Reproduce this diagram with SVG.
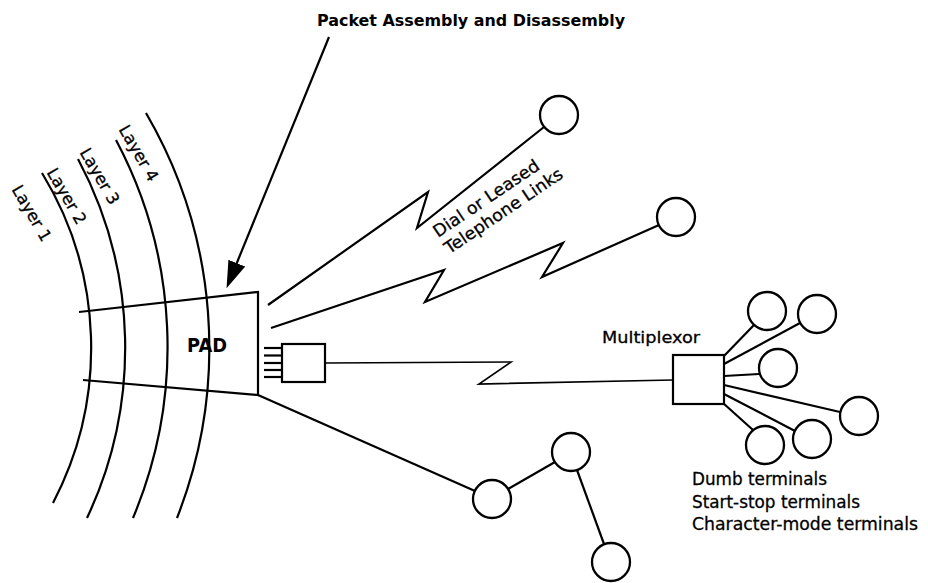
<svg xmlns="http://www.w3.org/2000/svg" width="928" height="583" viewBox="0 0 928 583">
<style>
  .ln { fill: none; stroke: #000; stroke-width: 2.2; stroke-linejoin: miter; stroke-linecap: butt; }
  .thin { fill: none; stroke: #000; stroke-width: 1.7; }
  .term { fill: #fff; stroke: #000; stroke-width: 2.3; }
  .box { fill: #fff; stroke: #000; stroke-width: 2.2; }
  .t { font-family: "DejaVu Sans", "Liberation Sans", sans-serif; fill: #000; stroke: #000; stroke-width: 0.3; }
  .b { font-weight: bold; stroke-width: 0; }
</style>
<defs>
  <marker id="ah" viewBox="0 0 27 18" refX="2" refY="9" markerWidth="27" markerHeight="18" markerUnits="userSpaceOnUse" orient="auto">
    <path d="M0,0 L27,9 L0,18 z" fill="#000"/>
  </marker>
</defs>
<rect width="928" height="583" fill="#fff"/>

<g id="layers">
  <path class="ln" d="M42 173 A335 335 0 0 1 53 503"/>
  <path class="ln" d="M78 159 A400 400 0 0 1 87 518"/>
  <path class="ln" d="M116 140 A441 441 0 0 1 133 518"/>
  <path class="ln" d="M146 113 A466 466 0 0 1 177 518"/>
  <text class="t" font-size="16.5" text-anchor="middle" transform="translate(32 213) rotate(60)" y="6">Layer 1</text>
  <text class="t" font-size="16.5" text-anchor="middle" transform="translate(67 196) rotate(60)" y="6">Layer 2</text>
  <text class="t" font-size="16.5" text-anchor="middle" transform="translate(100 176) rotate(60)" y="6">Layer 3</text>
  <text class="t" font-size="16.5" text-anchor="middle" transform="translate(139 153) rotate(60)" y="6">Layer 4</text>
</g>

<g id="pad">
  <polyline class="ln" points="79,312 258,292 258,395 83,380"/>
  <text class="t b" x="187" y="352" font-size="19" textLength="40" lengthAdjust="spacingAndGlyphs">PAD</text>
</g>

<g id="title">
  <text class="t b" x="317" y="26" font-size="16.5" textLength="308" lengthAdjust="spacingAndGlyphs">Packet Assembly and Disassembly</text>
</g>

<g id="adapter">
  <rect class="box" x="282" y="344" width="43" height="38"/>
</g>

<g id="multiplexor">
  <rect class="box" x="673" y="355" width="51" height="49"/>
  <text class="t" x="602" y="343" font-size="16" stroke-width="0.5" textLength="98" lengthAdjust="spacingAndGlyphs">Multiplexor</text>
</g>

<g id="remote1"><circle class="term" cx="559" cy="115" r="19"/></g>
<g id="remote2"><circle class="term" cx="676" cy="217" r="19"/></g>
<g id="mt1"><circle class="term" cx="767" cy="311" r="19"/></g>
<g id="mt2"><circle class="term" cx="817" cy="314" r="19"/></g>
<g id="mt3"><circle class="term" cx="778" cy="368" r="19"/></g>
<g id="mt4"><circle class="term" cx="859" cy="416" r="19"/></g>
<g id="mt5"><circle class="term" cx="812" cy="439" r="19"/></g>
<g id="mt6"><circle class="term" cx="765" cy="445" r="19"/></g>
<g id="nodeA"><circle class="term" cx="492" cy="499" r="19"/></g>
<g id="nodeB"><circle class="term" cx="571" cy="452" r="19"/></g>
<g id="nodeC"><circle class="term" cx="611" cy="562" r="19"/></g>

<g id="labels">
  <g transform="translate(438 238) rotate(-34)">
    <text class="t" x="0" y="0" font-size="17" textLength="124" lengthAdjust="spacingAndGlyphs">Dial or Leased</text>
    <text class="t" x="0" y="20" font-size="17" textLength="139" lengthAdjust="spacingAndGlyphs">Telephone Links</text>
  </g>
  <text class="t" x="692" y="485" font-size="17" textLength="135" lengthAdjust="spacingAndGlyphs">Dumb terminals</text>
  <text class="t" x="692" y="508" font-size="17" textLength="168" lengthAdjust="spacingAndGlyphs">Start-stop terminals</text>
  <text class="t" x="692" y="530" font-size="17" textLength="226" lengthAdjust="spacingAndGlyphs">Character-mode terminals</text>
</g>

<g id="connectors">
  <line class="ln" stroke-width="2.6" x1="329" y1="37" x2="236" y2="265" marker-end="url(#ah)"/>
  <polyline class="ln" points="268,305 428,192 417,228 544,127"/>
  <polyline class="ln" points="271,328 444,270 425,302 563,243 542,277 659,225"/>
  <g class="ln">
    <line x1="264" y1="348" x2="282" y2="348"/>
    <line x1="264" y1="355.5" x2="282" y2="355.5"/>
    <line x1="264" y1="363" x2="282" y2="363"/>
    <line x1="264" y1="370" x2="282" y2="370"/>
    <line x1="264" y1="377" x2="282" y2="377"/>
  </g>
  <polyline class="thin" points="325,363 511,362 479,384 673,380"/>
  <line class="ln" x1="724" y1="356" x2="754" y2="325"/>
  <line class="ln" x1="724" y1="364" x2="800" y2="323"/>
  <line class="ln" x1="724" y1="376" x2="759" y2="374"/>
  <line class="ln" x1="724" y1="385" x2="840" y2="412"/>
  <line class="ln" x1="724" y1="394" x2="795" y2="431"/>
  <line class="ln" x1="723" y1="403" x2="753" y2="430"/>
  <line class="ln" x1="258" y1="395" x2="475" y2="491"/>
  <line class="ln" x1="508" y1="489" x2="555" y2="462"/>
  <line class="ln" x1="577" y1="470" x2="604" y2="544"/>
</g>
</svg>
